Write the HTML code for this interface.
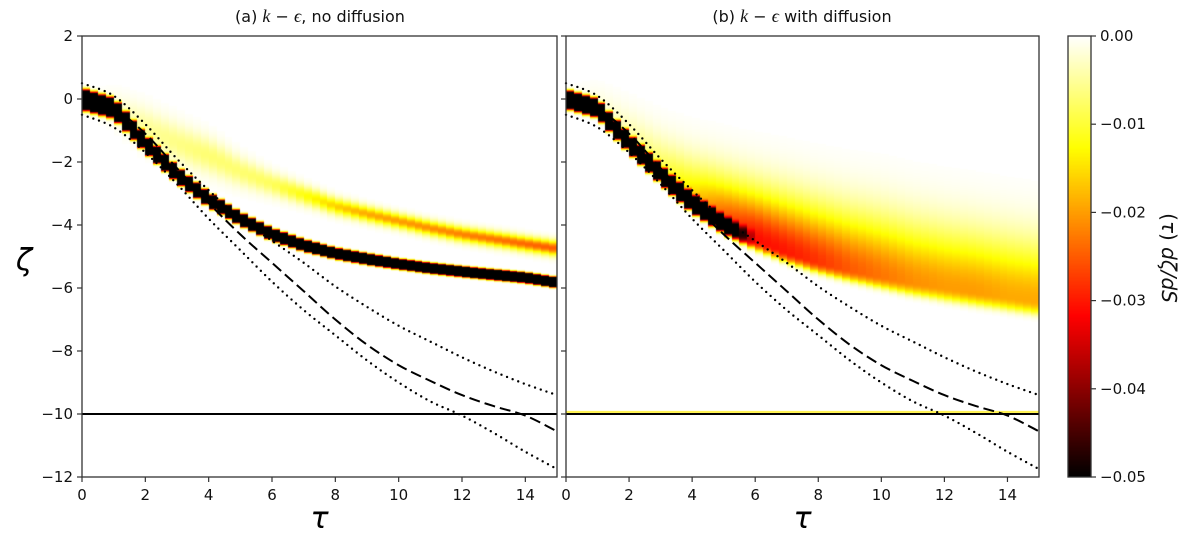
<!DOCTYPE html>
<html><head><meta charset="utf-8">
<style>
body{margin:0;background:#fff;width:1200px;height:534px;overflow:hidden;position:relative;font-family:"DejaVu Sans","Liberation Sans",sans-serif;}
canvas{position:absolute;left:0;top:0;}
svg{position:absolute;left:0;top:0;}
</style></head>
<body>
<canvas id="heat" width="1200" height="534"></canvas>
<svg id="chart" width="1200" height="534"></svg>
<script>
// ---- data ----
const tauGrid = [0,1,2,3,4,5,6,7,8,9,10,11,12,13,14,15];
const xTicks = [0,2,4,6,8,10,12,14];
const yTicks = [2,0,-2,-4,-6,-8,-10,-12];
const cbTicks = ["0.00","\u22120.01","\u22120.02","\u22120.03","\u22120.04","\u22120.05"];
const cbValues = [0,-0.01,-0.02,-0.03,-0.04,-0.05];
const dashedCurve = [0,-0.3,-1.1,-2.2,-3.3,-4.3,-5.2,-6.1,-7.0,-7.8,-8.45,-8.95,-9.4,-9.75,-10.05,-10.55];
const upperDotted = [0.5,0.1,-0.8,-1.9,-2.9,-3.8,-4.5,-5.2,-5.95,-6.6,-7.2,-7.7,-8.2,-8.65,-9.05,-9.4];
const lowerDotted = [-0.5,-0.9,-1.7,-2.7,-3.8,-4.8,-5.8,-6.7,-7.5,-8.3,-9.0,-9.6,-10.05,-10.6,-11.2,-11.75];
const floorLevel = -10;
// panel a
const aMainRidge = [0,-0.3,-1.4,-2.4,-3.2,-3.8,-4.3,-4.65,-4.9,-5.08,-5.24,-5.37,-5.48,-5.58,-5.67,-5.83];
const aMainWidth = [0.32,0.3,0.26,0.24,0.22,0.2,0.19,0.18,0.17,0.17,0.16,0.16,0.16,0.16,0.16,0.16];
const aSecRidge = [-0.1,-0.3,-0.9,-1.4,-1.8,-2.3,-2.7,-3.05,-3.4,-3.65,-3.88,-4.1,-4.3,-4.45,-4.6,-4.75];
const aSecAmp = [0,0.002,0.005,0.006,0.007,0.007,0.008,0.012,0.016,0.019,0.02,0.021,0.022,0.023,0.024,0.025];
const aSecWidth = [0.4,0.5,0.6,0.6,0.55,0.45,0.36,0.3,0.26,0.24,0.23,0.23,0.23,0.23,0.23,0.23];
// panel b
const bMainRidge = [0,-0.3,-1.4,-2.4,-3.3,-4.0,-4.5,-4.9,-5.2,-5.45,-5.65,-5.85,-6.0,-6.15,-6.3,-6.45];
const bMainAmp = [0.1,0.1,0.1,0.1,0.1,0.05,0,0,0,0,0,0,0,0,0,0];
const bBroadAmp = [0,0.002,0.005,0.009,0.016,0.026,0.031,0.03,0.028,0.025,0.023,0.021,0.02,0.02,0.019,0.019];
const bBroadUp = [0.5,0.6,0.9,1.1,1.3,1.45,1.55,1.65,1.7,1.75,1.8,1.8,1.8,1.8,1.8,1.8];
const bBroadLow = [0.2,0.25,0.3,0.3,0.3,0.3,0.32,0.34,0.36,0.38,0.4,0.42,0.44,0.45,0.45,0.45];

// ---- geometry ----
const panels = [{x0:82,x1:557,name:"panel-a"},{x0:566,x1:1039,name:"panel-b"}];
const Y0=36, Y1=477;
const yS = z => Y0 + (2 - z) * (Y1 - Y0) / 14;
const xS = (p, t) => p.x0 + t * (p.x1 - p.x0) / 15;
function interp(arr, t){ const i=Math.min(14,Math.max(0,Math.floor(t))); const f=t-i; return arr[i]*(1-f)+arr[i+1]*f; }
function hot(v){ let t=1+v/0.05; t=Math.max(0,Math.min(1,t));
  const r=Math.min(1,t/0.365), g=Math.max(0,Math.min(1,(t-0.365)/0.381)), b=Math.max(0,Math.min(1,(t-0.746)/0.254));
  return [r*255|0,g*255|0,b*255|0]; }
function fieldA(t,z){
  const d=(z-interp(aMainRidge,t))/interp(aMainWidth,t);
  let v=0.1*Math.exp(-Math.pow(Math.abs(d),4));
  const d2=(z-interp(aSecRidge,t))/interp(aSecWidth,t);
  v+=interp(aSecAmp,t)*Math.exp(-d2*d2);
  return -v; }
function fieldB(t,z){
  const d=(z-interp(bMainRidge,t))/0.28;
  let v=interp(bMainAmp,t)*Math.exp(-Math.pow(Math.abs(d),4));
  const r=interp(bMainRidge,t); const dz=z-r;
  const s= dz>0 ? interp(bBroadUp,t) : interp(bBroadLow,t);
  const q=dz/s; v+=interp(bBroadAmp,t)*Math.exp(-q*q*(dz>0?1:Math.max(1,Math.abs(q)*1.5)));
  return -v; }

// ---- heatmap ----
const ctx=document.getElementById('heat').getContext('2d');
[[panels[0],fieldA],[panels[1],fieldB]].forEach(([p,f])=>{
  for(let c=0;c<60;c++){
    const t0=c*0.25, tc=t0+0.125;
    const px0=Math.round(xS(p,t0)), px1=Math.round(xS(p,t0+0.25));
    for(let py=Y0;py<Y1;py++){
      const z=2-(py+0.5-Y0)*14/(Y1-Y0);
      const v=f(tc,z); if(v>-0.0002) continue;
      const col=hot(v); ctx.fillStyle=`rgb(${col[0]},${col[1]},${col[2]})`;
      ctx.fillRect(px0,py,px1-px0,1);
    }
  }
});
const CB={x0:1068,x1:1091};
for(let py=Y0;py<Y1;py++){ const v=-0.05*(py-Y0)/(Y1-Y0); const c=hot(v);
  ctx.fillStyle=`rgb(${c[0]},${c[1]},${c[2]})`; ctx.fillRect(CB.x0,py,CB.x1-CB.x0,1); }
ctx.fillStyle='rgb(255,240,60)'; ctx.fillRect(panels[1].x0,Math.round(yS(floorLevel))-3,panels[1].x1-panels[1].x0,2);

// ---- svg ----
const svg=document.getElementById('chart'); const NS='http://www.w3.org/2000/svg';
function el(tag,attrs,parent){ const e=document.createElementNS(NS,tag); for(const k in attrs) e.setAttribute(k,attrs[k]); (parent||svg).appendChild(e); return e; }
function txt(s,attrs,parent){ const e=el('text',attrs,parent); e.textContent=s; return e; }
function smooth(pts){
  let d='M'+pts[0][0].toFixed(1)+','+pts[0][1].toFixed(1);
  for(let i=0;i<pts.length-1;i++){
    const p0=pts[Math.max(0,i-1)],p1=pts[i],p2=pts[i+1],p3=pts[Math.min(pts.length-1,i+2)];
    const c1=[p1[0]+(p2[0]-p0[0])/6,p1[1]+(p2[1]-p0[1])/6], c2=[p2[0]-(p3[0]-p1[0])/6,p2[1]-(p3[1]-p1[1])/6];
    d+=` C${c1[0].toFixed(1)},${c1[1].toFixed(1)} ${c2[0].toFixed(1)},${c2[1].toFixed(1)} ${p2[0].toFixed(1)},${p2[1].toFixed(1)}`;
  }
  return d;
}

panels.forEach((p,pi)=>{
  const g=el('g',{});
  
  
  function line(arr,dash,name,w,cap){
    const d=smooth(tauGrid.map((t,i)=>[xS(p,t),yS(arr[i])]));
    const e=el('path',{d:d,fill:'none',stroke:'#000','stroke-width':w,'stroke-dasharray':dash,'stroke-linecap':cap},g);
    
    
  }
  line(upperDotted,'0,6','upper-dotted-line',2.4,'round');
  line(lowerDotted,'0,6','lower-dotted-line',2.4,'round');
  line(dashedCurve,'11,5','dashed-line',2,'butt');
  const fl=el('line',{x1:p.x0,x2:p.x1,y1:yS(floorLevel),y2:yS(floorLevel),stroke:'#000','stroke-width':2},g);
  
  
  const fr=el('rect',{x:p.x0,y:Y0,width:p.x1-p.x0,height:Y1-Y0,fill:'none',stroke:'#333','stroke-width':1.3},g);
  
  
  xTicks.forEach(t=>{ const x=xS(p,t);
    el('line',{x1:x,x2:x,y1:Y1,y2:Y1+5,stroke:'#333','stroke-width':1.2},g);
    const l=txt(String(t),{x:x,y:Y1+23,'text-anchor':'middle','font-size':15,fill:'#111'},g);
    
    
  });
  yTicks.forEach(v=>{ const y=yS(v);
    el('line',{x1:p.x0-5,x2:p.x0,y1:y,y2:y,stroke:'#333','stroke-width':1.2},g);
    if(pi===0){ const l=txt(String(v).replace('-','\u2212'),{x:p.x0-9,y:y+5,'text-anchor':'end','font-size':15,fill:'#111'},g);
      
       }
  });
  const xl=txt('\u03c4',{x:(p.x0+p.x1)/2,y:528,'text-anchor':'middle','font-size':30,'font-style':'italic',fill:'#000'},g);
  
  
});
const t1=el('text',{x:320,y:22,'text-anchor':'middle','font-size':16,fill:'#111'});
t1.innerHTML='(a) <tspan font-family="Liberation Serif" font-style="italic" font-size="18">k</tspan> \u2212 <tspan font-family="Liberation Serif" font-style="italic" font-size="18">\u03f5</tspan>, no diffusion';


const t2=el('text',{x:802,y:22,'text-anchor':'middle','font-size':16,fill:'#111'});
t2.innerHTML='(b) <tspan font-family="Liberation Serif" font-style="italic" font-size="18">k</tspan> \u2212 <tspan font-family="Liberation Serif" font-style="italic" font-size="18">\u03f5</tspan> with diffusion';


const yl=txt('\u03b6',{x:24,y:270,'text-anchor':'middle','font-size':30,'font-style':'italic',fill:'#000'});


const cbg=el('g',{});


el('rect',{x:CB.x0,y:Y0,width:CB.x1-CB.x0,height:Y1-Y0,fill:'none',stroke:'#333','stroke-width':1.3},cbg);
cbValues.forEach((v,i)=>{ const y=Y0+(-v/0.05)*(Y1-Y0);
  el('line',{x1:CB.x1,x2:CB.x1+5,y1:y,y2:y,stroke:'#333','stroke-width':1.2},cbg);
  const l=txt(cbTicks[i],{x:CB.x1+9,y:y+5,'font-size':15,fill:'#111'},cbg);
  
  
});
const cl=el('text',{x:0,y:0,'font-size':20,fill:'#111','text-anchor':'middle',transform:'translate(1162,258) rotate(90)'},cbg);
cl.innerHTML='(<tspan font-style="italic">\u03c4</tspan>) <tspan font-style="italic">d\u03b6/dS</tspan>';


</script>
</body></html>
